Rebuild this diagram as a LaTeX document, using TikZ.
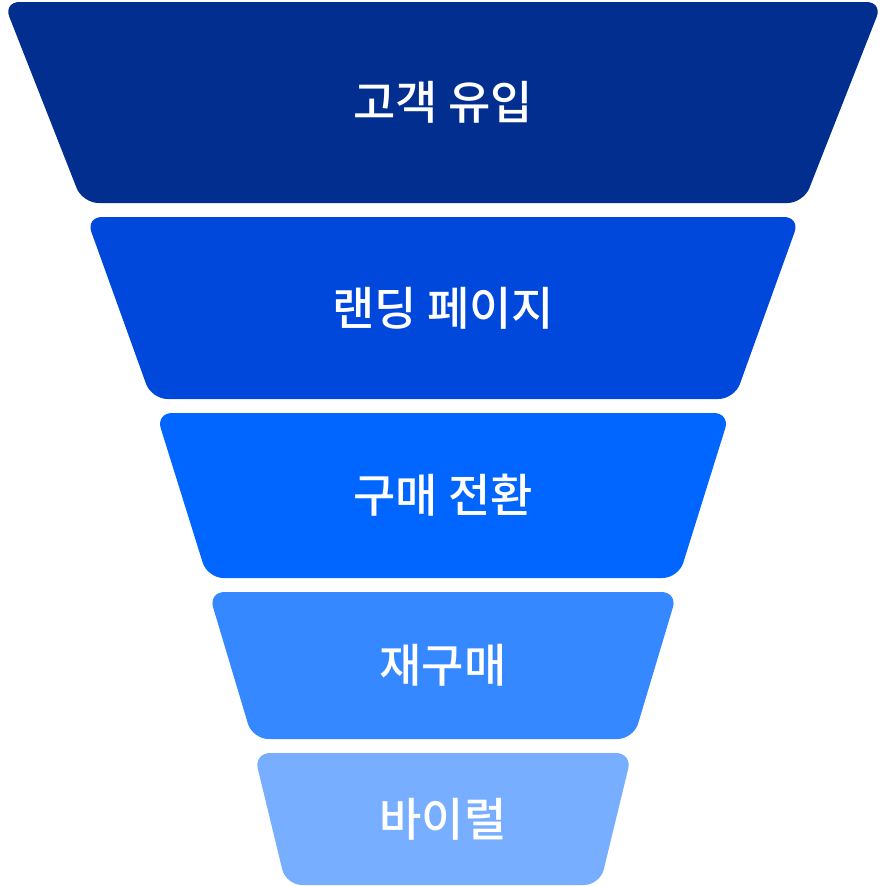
\documentclass[tikz,border=0pt]{standalone}
\usepackage{fontspec}
\newfontfamily\krfont{Noto Sans CJK KR Medium}
\definecolor{stageA}{HTML}{012E8F}
\definecolor{stageB}{HTML}{0047DC}
\definecolor{stageC}{HTML}{0066FF}
\definecolor{stageD}{HTML}{3588FF}
\definecolor{stageE}{HTML}{77AEFF}
\begin{document}
\begin{tikzpicture}[x=1pt,y=-1pt]
            \tikzset{
                stage/.style={rounded corners=16pt},
                stage label/.style={text=white,font=\krfont\fontsize{46}{46}\selectfont},}
            \useasboundingbox (0,0) rectangle (884,886);
            % name/top/bottom/half top width/half bottom width/colour/text
            \foreach \name/\top/\bot/\wt/\wb/\col/\txt in {
                inflow/2/203/439.5/360.5/stageA/고객 유입,
                landing/217/399/357/291.5/stageB/랜딩 페이지,
                purchase/413/578/287/235.5/stageC/구매 전환,
                repurchase/592/739/234.5/190.5/stageD/재구매,
                viral/753/885/189/157/stageE/바이럴}{
                \fill[stage,\col] (443-\wt,\top) -- (443+\wt,\top) -- (443+\wb,\bot) -- (443-\wb,\bot) -- cycle;
                \node[stage label] (\name) at (443,{(\top+\bot)/2}) {\txt};
            }
        \end{tikzpicture}
\end{document}
